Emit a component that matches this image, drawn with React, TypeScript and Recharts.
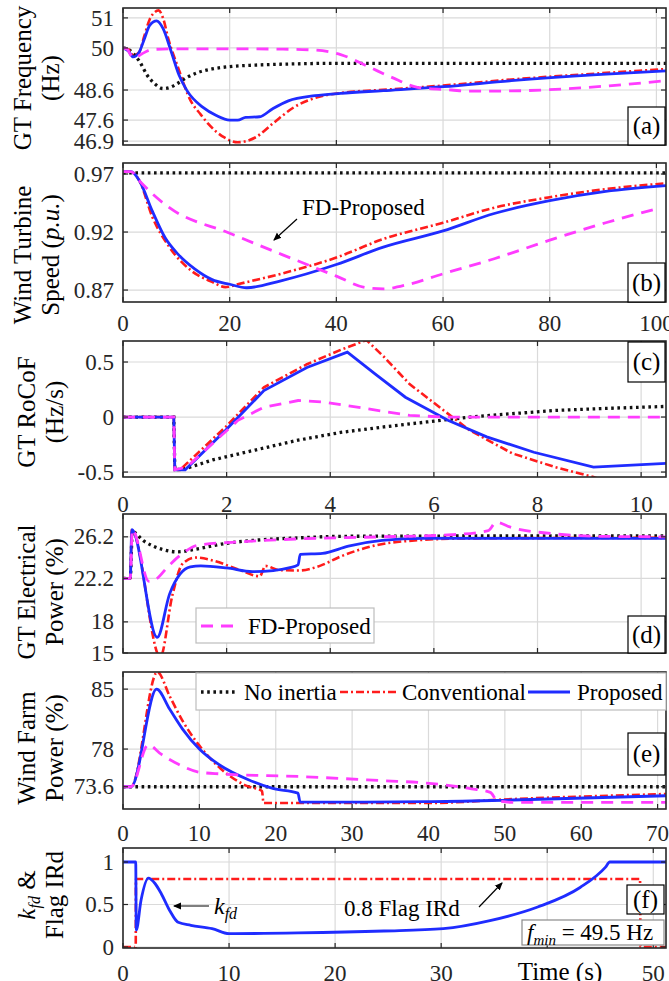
import React from 'react';
import { LineChart, Line, XAxis, YAxis, CartesianGrid } from 'recharts';

type Pt = [number, number];

// (a) GT frequency (Hz) vs time (s)
const aNoInertia: Pt[] = [[0, 50], [1, 49.95], [2, 49.8], [3.1, 49.55], [4.5, 49.1], [6, 48.8], [7.5, 48.65], [9, 48.7], [10.5, 48.85], [12, 49.02], [14, 49.18], [16.7, 49.3], [20, 49.38], [24.8, 49.43], [30, 49.46], [40.8, 49.49], [101.8, 49.49]];
const aConventional: Pt[] = [[0, 50], [1, 49.95], [2, 49.75], [3, 49.85], [4, 50.4], [5, 50.95], [6, 51.2], [6.7, 51.25], [7.5, 51.0], [8.5, 50.3], [10.3, 49.36], [12.7, 48.24], [14.5, 47.8], [16, 47.47], [19, 47.02], [21.5, 46.86], [24.8, 47.02], [28, 47.47], [32, 48.02], [37.6, 48.41], [40.8, 48.5], [50, 48.62], [60, 48.75], [72.8, 48.95], [88.9, 49.15], [101.8, 49.3]];
const aProposed: Pt[] = [[0, 50], [1, 49.9], [1.9, 49.7], [3, 49.85], [4, 50.3], [5, 50.75], [6.3, 50.9], [7.5, 50.65], [9, 49.9], [10.5, 49.1], [12, 48.58], [15, 48.02], [17.5, 47.75], [20, 47.6], [21.5, 47.6], [23, 47.69], [25.6, 47.71], [28, 47.97], [31, 48.24], [36, 48.41], [40.8, 48.49], [48.8, 48.58], [60, 48.71], [72.8, 48.91], [88.9, 49.11], [101.8, 49.24]];
const aFdProposed: Pt[] = [[0, 50], [0.8, 49.95], [1.5, 49.75], [2.2, 49.67], [3.5, 49.8], [5.5, 49.95], [10, 49.97], [20, 49.97], [30, 49.96], [36, 49.93], [40.8, 49.78], [45.6, 49.41], [50.4, 49.02], [55.2, 48.69], [61.6, 48.6], [64.8, 48.56], [72.8, 48.57], [85.7, 48.67], [101.8, 48.91]];

// (b) wind turbine speed (p.u.)
const bNoInertia: Pt[] = [[0, 0.971], [101.8, 0.971]];
const bConventional: Pt[] = [[0, 0.972], [1.5, 0.972], [3.1, 0.964], [5.5, 0.933], [8.7, 0.907], [12.7, 0.887], [16.7, 0.877], [19.2, 0.8725], [21.5, 0.875], [29.6, 0.884], [40, 0.898], [48.8, 0.914], [60, 0.928], [69.6, 0.941], [80, 0.95], [90.5, 0.957], [101.8, 0.962]];
const bProposed: Pt[] = [[0, 0.972], [1.5, 0.972], [3.1, 0.964], [5.5, 0.938], [7.9, 0.915], [10.3, 0.901], [13.5, 0.888], [16.7, 0.879], [20, 0.875], [23.2, 0.872], [29.6, 0.878], [40, 0.892], [48.8, 0.907], [60, 0.921], [69.6, 0.936], [80, 0.947], [90.5, 0.955], [101.8, 0.96]];
const bFdProposed: Pt[] = [[0, 0.972], [1.5, 0.972], [3.1, 0.964], [5.5, 0.953], [8.7, 0.941], [20, 0.919], [29.6, 0.901], [40, 0.882], [45.6, 0.872], [48.8, 0.871], [53.6, 0.875], [60, 0.884], [69.6, 0.897], [80, 0.913], [90.5, 0.928], [100, 0.94]];

// (c) GT RoCoF (Hz/s)
const cNoInertia: Pt[] = [[0, 0], [0.98, 0], [1.0, -0.48], [1.2, -0.47], [1.73, -0.39], [2.55, -0.3], [3.38, -0.21], [4.2, -0.14], [5.03, -0.09], [5.86, -0.045], [6.69, 0], [7.5, 0.03], [8.34, 0.06], [9.17, 0.076], [10.5, 0.097]];
const cConventional: Pt[] = [[0, 0], [0.98, 0], [1.0, -0.48], [1.1, -0.48], [1.98, -0.09], [2.72, 0.27], [3.55, 0.48], [4.2, 0.61], [4.7, 0.7], [5.03, 0.55], [5.53, 0.3], [6.19, 0.06], [6.69, -0.12], [7.51, -0.33], [8.34, -0.455], [9.08, -0.545], [9.4, -0.6]];
const cProposed: Pt[] = [[0, 0], [0.98, 0], [1.0, -0.48], [1.2, -0.48], [1.98, -0.12], [2.72, 0.24], [3.55, 0.45], [4.33, 0.59], [4.87, 0.39], [5.45, 0.18], [6.27, -0.03], [7.02, -0.18], [7.93, -0.32], [9.08, -0.455], [10.5, -0.42]];
const cFdProposed: Pt[] = [[0, 0], [0.98, 0], [1.0, -0.48], [1.23, -0.455], [1.73, -0.24], [2.22, -0.03], [2.72, 0.09], [3.38, 0.15], [3.88, 0.136], [4.7, 0.076], [5.53, 0.015], [6.2, 0], [10.5, 0]];

// (d) GT electrical power (%)
const dNoInertia: Pt[] = [[0, 22.2], [0.14, 22.2], [0.18, 26.7], [0.4, 25.8], [0.75, 25.0], [1.05, 24.75], [1.4, 25.0], [1.9, 25.5], [2.5, 25.85], [3.4, 26.1], [4.2, 26.25], [10.5, 26.3]];
const dConventional: Pt[] = [[0, 22.2], [0.14, 22.2], [0.17, 26.9], [0.72, 14.6], [0.95, 20.5], [1.15, 23.6], [1.4, 24.2], [1.75, 23.9], [2.25, 23.0], [2.64, 22.4], [2.75, 23.4], [3.0, 23.0], [3.4, 22.95], [3.8, 23.4], [4.2, 24.3], [4.85, 25.35], [5.5, 25.8], [6.7, 26.05], [10.5, 26.1]];
const dProposed: Pt[] = [[0, 22.2], [0.14, 22.2], [0.17, 26.9], [0.66, 16.5], [0.9, 20.7], [1.1, 22.6], [1.3, 23.3], [1.5, 23.4], [2.0, 23.2], [2.5, 22.85], [2.9, 22.95], [3.2, 23.2], [3.38, 23.5], [3.42, 24.5], [3.85, 24.6], [4.35, 25.3], [5.0, 25.85], [5.8, 26.05], [10.5, 26.05]];
const dFdProposed: Pt[] = [[0, 22.2], [0.14, 22.2], [0.18, 26.9], [0.5, 21.9], [0.6, 22.0], [0.9, 23.5], [1.15, 24.6], [1.45, 25.4], [2.2, 25.7], [3.4, 26.0], [5.0, 26.2], [6.35, 26.4], [7.05, 26.8], [7.2, 27.6], [7.5, 27.1], [8.3, 26.5], [9.2, 26.25], [10.5, 26.2]];

// (e) wind farm power (%)
const eNoInertia: Pt[] = [[0, 73.6], [71.1, 73.6]];
const eConventional: Pt[] = [[0, 73.6], [1.06, 73.6], [4.5, 87.0], [6.1, 84.2], [7.8, 81.3], [10, 78.4], [12.8, 75.7], [16.2, 73.7], [18.2, 73.1], [18.4, 71.7], [40, 71.7], [51, 72.16], [71.1, 72.75]];
const eProposed: Pt[] = [[0, 73.6], [1.06, 73.6], [4.4, 85], [6.1, 82.67], [7.8, 80.33], [10, 78], [12.8, 76.05], [16.2, 74.5], [19.6, 73.4], [22.9, 72.86], [23.2, 71.8], [39.7, 71.85], [51, 72.05], [71.1, 72.55]];
const eFdProposed: Pt[] = [[0, 73.6], [1.06, 73.6], [3.3, 78.5], [5, 77.4], [7.2, 76.25], [10, 75.3], [12.8, 75.1], [22.9, 74.8], [34.1, 74.3], [39.7, 74.03], [45.3, 73.4], [48.1, 72.94], [49, 71.97], [51, 71.77], [71.1, 71.77]];

// (f) k_fd and 0.8 x Flag IRd
const fKfd: Pt[] = [[0, 1], [1.2, 1], [1.25, 0.2], [1.7, 0.55], [2.4, 0.81], [3.0, 0.75], [3.6, 0.63], [4.4, 0.43], [5.2, 0.29], [6.4, 0.255], [8.4, 0.216], [10, 0.157], [16.5, 0.165], [24.6, 0.188], [30.2, 0.216], [34.6, 0.31], [39.1, 0.47], [43.1, 0.7], [45.5, 0.94], [45.9, 1], [51.2, 1]];
const fFlag: Pt[] = [[0, 0], [1.2, 0], [1.22, 0.8], [48.75, 0.8], [48.8, 0], [51.2, 0]];

const ticks100 = [0, 20, 40, 60, 80, 100];
const ticks10 = [0, 2, 4, 6, 8, 10];
const ticks70 = [0, 10, 20, 30, 40, 50, 60, 70];
const ticks50 = [0, 10, 20, 30, 40, 50];

const W = 669;
const H = 981;
const LEFT = 123;
const RIGHT = 666;
const FONT = 'Liberation Serif, Times New Roman, serif';
const TICK_COLOR = '#262626';

const lineStyle = {
  none: { stroke: '#111111', strokeWidth: 3.3, strokeDasharray: '2.6 3.6' },
  conv: { stroke: '#ff1c1c', strokeWidth: 2.6, strokeDasharray: '8 3 2 3' },
  prop: { stroke: '#1f2cff', strokeWidth: 2.8 },
  fd: { stroke: '#ff3cff', strokeWidth: 2.8, strokeDasharray: '12 8' },
};

type Kind = keyof typeof lineStyle;
type Series = { name: string; kind: Kind; pts: Pt[] };

type PanelCfg = {
  id: string;
  top: number;
  bottom: number;
  xDomain: [number, number];
  xTicks: number[];
  labelGap: number | null;
  hideLabels?: number[];
  yDomain: [number, number];
  yTicks: number[];
  curve: 'linear' | 'monotone';
  series: Series[];
};

const four = (n: Pt[], c: Pt[], p: Pt[], f: Pt[]): Series[] => [
  { name: 'No inertia', kind: 'none', pts: n },
  { name: 'Conventional', kind: 'conv', pts: c },
  { name: 'Proposed', kind: 'prop', pts: p },
  { name: 'FD-Proposed', kind: 'fd', pts: f },
];

const panels: PanelCfg[] = [
  { id: 'a', top: 8, bottom: 145, xDomain: [0, 101.8], xTicks: ticks100, labelGap: null, yDomain: [46.77, 51.33], yTicks: [46.9, 47.6, 48.6, 50, 51], curve: 'monotone', series: four(aNoInertia, aConventional, aProposed, aFdProposed) },
  { id: 'b', top: 163, bottom: 302, xDomain: [0, 101.8], xTicks: ticks100, labelGap: 29, yDomain: [0.8597, 0.9795], yTicks: [0.87, 0.92, 0.97], curve: 'monotone', series: four(bNoInertia, bConventional, bProposed, bFdProposed) },
  { id: 'c', top: 341, bottom: 477, xDomain: [0, 10.48], xTicks: ticks10, labelGap: 35, yDomain: [-0.545, 0.691], yTicks: [-0.5, 0, 0.5], curve: 'linear', series: four(cNoInertia, cConventional, cProposed, cFdProposed) },
  { id: 'd', top: 514, bottom: 653, xDomain: [0, 10.48], xTicks: ticks10, labelGap: null, yDomain: [15, 28.4], yTicks: [15, 18, 22.2, 26.2], curve: 'monotone', series: four(dNoInertia, dConventional, dProposed, dFdProposed) },
  { id: 'e', top: 672, bottom: 809, xDomain: [0, 71.1], xTicks: ticks70, labelGap: 32, yDomain: [71.0, 87.0], yTicks: [73.6, 78, 85], curve: 'monotone', series: four(eNoInertia, eConventional, eProposed, eFdProposed) },
  { id: 'f', top: 848, bottom: 948, xDomain: [0, 51.2], xTicks: ticks50, labelGap: 33, hideLabels: [40], yDomain: [-0.012, 1.165], yTicks: [0, 0.5, 1], curve: 'monotone', series: [
    { name: 'Flag', kind: 'conv', pts: fFlag },
    { name: 'kfd', kind: 'prop', pts: fKfd },
  ] },
];

function Panel({ cfg }: { cfg: PanelCfg }) {
  const { top, bottom, labelGap } = cfg;
  const hidden = cfg.hideLabels || [];
  const xTick = (props: any) => {
    const { x, payload } = props;
    return (
      <g>
        <line x1={x} x2={x} y1={bottom} y2={bottom - 5} stroke={TICK_COLOR} strokeWidth={1.2} />
        <line x1={x} x2={x} y1={top} y2={top + 5} stroke={TICK_COLOR} strokeWidth={1.2} />
        {labelGap !== null && !hidden.includes(payload.value) && (
          <text x={x} y={bottom + labelGap} textAnchor="middle" style={{ fontFamily: FONT }} fontSize={23} fill={TICK_COLOR}>
            {payload.value}
          </text>
        )}
      </g>
    );
  };
  const yTick = (props: any) => {
    const { y, payload } = props;
    return (
      <g>
        <line x1={LEFT} x2={LEFT + 5} y1={y} y2={y} stroke={TICK_COLOR} strokeWidth={1.2} />
        <line x1={RIGHT} x2={RIGHT - 5} y1={y} y2={y} stroke={TICK_COLOR} strokeWidth={1.2} />
        <text x={LEFT - 9} y={y} dy={7.6} textAnchor="end" style={{ fontFamily: FONT }} fontSize={23} fill={TICK_COLOR}>
          {payload.value}
        </text>
      </g>
    );
  };
  return (
    <div style={{ position: 'absolute', left: 0, top: 0 }}>
      <LineChart width={W} height={H} margin={{ top, right: W - RIGHT, bottom: H - bottom - 30, left: 0 }}>
        <CartesianGrid stroke="#dadada" strokeWidth={1.2} />
        <XAxis type="number" dataKey="t" domain={cfg.xDomain} ticks={cfg.xTicks} allowDataOverflow interval={0}
          tick={xTick} tickLine={false} axisLine={false} tickSize={0} height={30} />
        <YAxis type="number" domain={cfg.yDomain} ticks={cfg.yTicks} allowDataOverflow interval={0}
          tick={yTick} tickLine={false} axisLine={false} tickSize={0} width={LEFT} />
        {cfg.series.map((s) => (
          <Line key={s.name} data={s.pts.map(([t, v]) => ({ t, v }))} dataKey="v" name={s.name}
            type={cfg.curve} dot={false} activeDot={false} isAnimationActive={false} {...lineStyle[s.kind]} />
        ))}
      </LineChart>
    </div>
  );
}

const yTitles = [
  { cy: 78, x1: 31, x2: 59, l1: <>GT Frequency</>, l2: <>(Hz)</> },
  { cy: 255, x1: 31, x2: 59, l1: <>Wind Turbine</>, l2: <>Speed (<tspan fontStyle="italic">p.u.</tspan>)</> },
  { cy: 412, x1: 35, x2: 63, l1: <>GT RoCoF</>, l2: <>(Hz/s)</> },
  { cy: 592, x1: 35, x2: 63, l1: <>GT Electrical</>, l2: <>Power (%)</> },
  { cy: 748, x1: 35, x2: 63, l1: <>Wind Farm</>, l2: <>Power (%)</> },
  { cy: 895, x1: 35, x2: 63, l1: <><tspan fontStyle="italic">k</tspan><tspan fontStyle="italic" fontSize={16} dy={5}>fd</tspan><tspan dy={-5}> &amp;</tspan></>, l2: <>Flag IRd</> },
];

const tagBoxes = [
  { t: '(a)', x: 628, y: 107, h: 38 },
  { t: '(b)', x: 628, y: 263, h: 39 },
  { t: '(c)', x: 628, y: 342, h: 40 },
  { t: '(d)', x: 628, y: 616, h: 37 },
  { t: '(e)', x: 628, y: 733, h: 42 },
  { t: '(f)', x: 627, y: 885, h: 29 },
];

function Overlay() {
  return (
    <svg width={W} height={H} style={{ position: 'absolute', left: 0, top: 0, pointerEvents: 'none', fontFamily: FONT }}>
      <defs>
        <marker id="arrowhead" markerWidth="8" markerHeight="8" refX="7" refY="4" orient="auto" markerUnits="userSpaceOnUse">
          <path d="M0,0.5 L8,4 L0,7.5 Z" fill="#000" />
        </marker>
      </defs>
      {panels.map((p) => (
        <rect key={p.id} x={LEFT} y={p.top} width={RIGHT - LEFT} height={p.bottom - p.top} fill="none" stroke="#2b2b2b" strokeWidth={1.6} />
      ))}
      {yTitles.map((t, i) => (
        <g key={i} fontSize={25} fill="#000">
          <text transform={`translate(${t.x1},${t.cy}) rotate(-90)`} textAnchor="middle">{t.l1}</text>
          <text transform={`translate(${t.x2},${t.cy}) rotate(-90)`} textAnchor="middle">{t.l2}</text>
        </g>
      ))}
      {tagBoxes.map((b) => (
        <g key={b.t}>
          <rect x={b.x} y={b.y} width={37} height={b.h} fill="#fff" stroke="#000" strokeWidth={1.2} />
          <text x={b.x + 18.5} y={b.y + b.h / 2 + 8} textAnchor="middle" fontSize={25}>{b.t}</text>
        </g>
      ))}

      {/* (b) annotation */}
      <text x={302} y={215} fontSize={23}>FD-Proposed</text>
      <line x1={297} y1={219} x2={274} y2={240} stroke="#000" strokeWidth={1.2} markerEnd="url(#arrowhead)" />

      {/* (d) legend */}
      <rect x={196} y={608} width={178} height={35} fill="#fff" stroke="#bdbdbd" strokeWidth={1.2} />
      <line x1={201} x2={241} y1={626} y2={626} {...lineStyle.fd} />
      <text x={248} y={634} fontSize={23}>FD-Proposed</text>

      {/* (e) legend */}
      <rect x={196} y={673} width={470} height={37} fill="#fff" stroke="#bdbdbd" strokeWidth={1.2} />
      <line x1={201} x2={235} y1={692} y2={692} {...lineStyle.none} />
      <text x={244} y={700} fontSize={23}>No inertia</text>
      <line x1={340} x2={396} y1={692} y2={692} {...lineStyle.conv} />
      <text x={402} y={700} fontSize={23}>Conventional</text>
      <line x1={528} x2={570} y1={692} y2={692} {...lineStyle.prop} />
      <text x={577} y={700} fontSize={23}>Proposed</text>

      {/* (f) annotations */}
      <line x1={209} y1={906} x2={174} y2={906} stroke="#000" strokeWidth={1.2} markerEnd="url(#arrowhead)" />
      <text x={214} y={914} fontSize={24}>
        <tspan fontStyle="italic">k</tspan><tspan fontStyle="italic" fontSize={16} dy={5}>fd</tspan>
      </text>
      <text x={344} y={916} fontSize={23}>0.8 Flag IRd</text>
      <line x1={479} y1={907} x2={502} y2={883} stroke="#000" strokeWidth={1.2} markerEnd="url(#arrowhead)" />
      <rect x={522} y={920} width={142} height={25} fill="#fff" stroke="#8a8a8a" strokeWidth={1.2} />
      <text x={527} y={940} fontSize={23}>
        <tspan fontStyle="italic">f</tspan><tspan fontStyle="italic" fontSize={15} dy={5}>min</tspan><tspan dy={-5}> = 49.5 Hz</tspan>
      </text>
      <text x={560} y={980} textAnchor="middle" fontSize={25}>Time (s)</text>
    </svg>
  );
}

export default function App() {
  return (
    <div style={{ position: 'absolute', left: 0, top: 0, width: W, height: H, background: '#fff', overflow: 'hidden' }}>
      {panels.map((p) => (
        <Panel key={p.id} cfg={p} />
      ))}
      <Overlay />
    </div>
  );
}
